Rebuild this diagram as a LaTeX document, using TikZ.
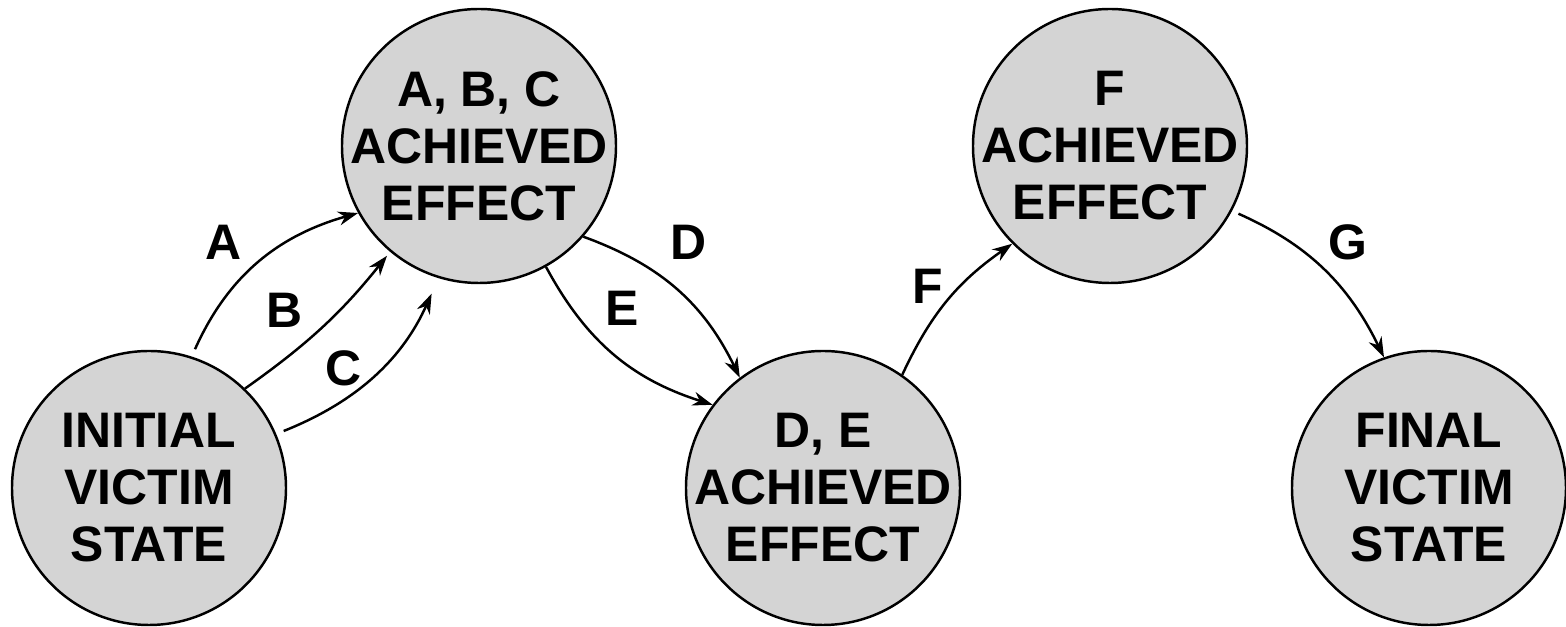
\documentclass[tikz,border=0pt]{standalone}
\usepackage{fontspec}
\setmainfont{Liberation Sans}
\usetikzlibrary{arrows.meta}

\tikzset{
  state/.style={circle, draw=black, fill=black!17, line width=0.7pt,
    minimum size=2.74cm, inner sep=-0.2cm, align=center,
    font=\fontsize{14.2}{16.2}\selectfont\bfseries},
  trans/.style={-{Stealth[length=2mm,width=1.4mm]}, line width=0.7pt},
  lbl/.style={font=\fontsize{14.2}{16.2}\selectfont\bfseries}
}

\begin{document}
\begin{tikzpicture}
\useasboundingbox (0,0) rectangle (15.66,-6.27);

% states
\node[state] (init) at (1.49,-4.88) {INITIAL\\VICTIM\\STATE};
\node[state] (abc) at (4.79,-1.46) {A, B, C\\ACHIEVED\\EFFECT};
\node[state] (de) at (8.23,-4.88) {D, E\\ACHIEVED\\EFFECT};
\node[state] (f) at (11.10,-1.46) {F\\ACHIEVED\\EFFECT};
\node[state] (final) at (14.29,-4.88) {FINAL\\VICTIM\\STATE};

% transitions
\draw[trans, shorten <=0.08cm] (init.72) to[bend left=25] (abc.209);
\draw[trans, shorten >=0.05cm] (init.46) to[bend right=8] (abc.230);
\draw[trans, shorten <=0.08cm, shorten >=0.17cm] (init.23) to[bend right=22] (abc.253);
\draw[trans] (abc.-41) to[bend left=22] (de.127);
\draw[trans] (abc.-61) to[bend right=22] (de.143);
\draw[trans] (de.55) to[bend left=15] (f.225);
\draw[trans, shorten <=0.07cm] (f.-28) to[bend left=20] (final.109);

% labels
\node[lbl] (lA) at (2.24,-2.42) {A};
\node[lbl] (lB) at (2.85,-3.10) {B};
\node[lbl] (lC) at (3.44,-3.68) {C};
\node[lbl] (lD) at (6.89,-2.42) {D};
\node[lbl] (lE) at (6.22,-3.08) {E};
\node[lbl] (lF) at (9.28,-2.86) {F};
\node[lbl] (lG) at (13.48,-2.42) {G};

\end{tikzpicture}
\end{document}
